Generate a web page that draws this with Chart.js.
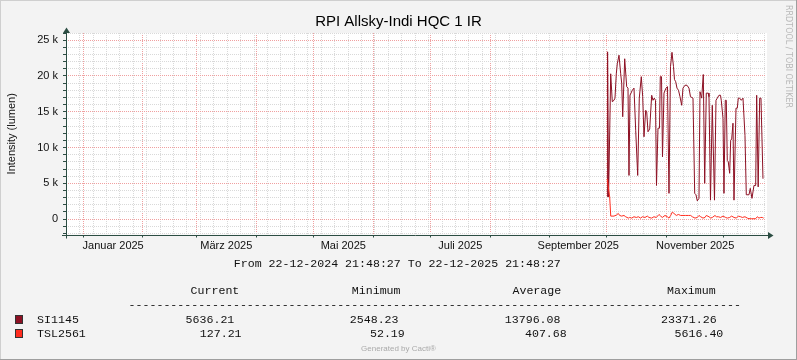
<!DOCTYPE html>
<html><head><meta charset="utf-8">
<script src="https://cdn.jsdelivr.net/npm/chart.js@4.4.1/dist/chart.umd.min.js"></script>
<style>
html,body{margin:0;padding:0;background:#f3f3f3;}
#wrap{position:relative;width:797px;height:360px;overflow:hidden;}
canvas{position:absolute;left:0;top:0;}
.m{position:absolute;font-family:"Liberation Mono",monospace;font-size:11.6px;line-height:1;white-space:pre;color:#111;}
.sq{position:absolute;width:8px;height:9px;box-sizing:border-box;border:1px solid #333;}
#gen{position:absolute;left:0;width:797px;text-align:center;top:345px;font-family:"Liberation Sans",sans-serif;font-size:8px;line-height:1;color:#aaa;}
#rrd{position:absolute;left:783px;top:5px;writing-mode:vertical-rl;font-family:"DejaVu Sans",sans-serif;font-size:8px;line-height:10px;color:#b8b8b8;white-space:nowrap;}
</style></head><body>
<div id="wrap">
<canvas id="c" width="797" height="360"></canvas>
<div id="legend"></div>
<div id="gen">Generated by Cacti®</div>
<div id="rrd">RRDTOOL / TOBI OETIKER</div>
</div>
<script>
// ---------------- data ----------------
const chartTitle = 'RPI Allsky-Indi HQC 1 IR';
const yAxisTitle = 'Intensity (lumen)';
const rangeStart = '2024-12-22T21:48:27Z';
const rangeEnd = '2025-12-22T21:48:27Z';
const monthStarts = ['2025-01-01','2025-02-01','2025-03-01','2025-04-01','2025-05-01','2025-06-01','2025-07-01','2025-08-01','2025-09-01','2025-10-01','2025-11-01','2025-12-01'];
const xLabelMonths = ['2025-01','2025-03','2025-05','2025-07','2025-09','2025-11'];
const xTickLabels = ['Januar 2025','März 2025','Mai 2025','Juli 2025','September 2025','November 2025'];
const yTickValues = [0,5000,10000,15000,20000,25000];
const yTickLabels = ['0','5 k','10 k','15 k','20 k','25 k'];
const yMin = -2150, yMax = 26000, yMinorStep = 1000;

const seriesNames = ['SI1145','TSL2561'];
const seriesStart = '2025-10-01T00:00:00Z'; // day offsets below are counted from here
const si1145Days = [0.10,0.31,0.83,1.93,2.76,3.65,4.17,4.85,5.37,6.26,7.14,7.66,8.19,9.23,10.27,10.95,11.47,11.99,13.19,14.08,14.96,16.01,16.84,17.88,18.61,19.29,20.18,20.70,21.38,22.26,23.31,23.98,24.66,25.29,25.81,26.59,27.37,27.79,28.42,28.94,29.72,30.76,31.54,32.33,33.11,33.89,34.67,35.19,35.82,36.50,37.28,38.06,38.95,39.62,40.67,41.71,42.75,43.54,44.84,45.73,46.40,47.08,47.97,48.49,49.37,50.21,50.94,51.77,52.82,53.18,53.96,54.90,56.05,56.83,57.51,58.39,59.18,59.59,60.48,61.00,61.68,62.20,62.72,63.24,63.97,64.49,65.02,65.69,66.22,67.26,67.94,68.46,69.19,70.02,70.91,71.95,72.63,74.04,74.71,75.60,76.64,77.53,78.05,78.83,79.62,80.29,81.33];
const si1145 = [3100,23370,3100,20300,16400,16600,16900,20300,21700,22900,20300,19000,14300,22400,18500,18300,6100,17300,18000,18300,12400,6100,16900,19900,17100,11500,15200,15000,12200,12600,17300,16600,16900,16600,4700,12700,12700,19900,19900,8700,17600,18300,18500,3600,21300,23300,21300,19500,19200,18300,18000,17100,15900,18300,18700,18700,18300,17100,16900,3600,3400,2550,2900,17800,16900,20200,5000,17600,17600,17100,2650,15900,2650,16600,16900,17300,17300,16600,14100,3600,16600,16600,8200,8000,6400,11000,11200,13400,2650,15500,15500,16900,16900,16600,16900,11700,3400,3400,4300,2900,4700,4700,17300,4500,16900,16900,5640];
const tsl2561Days = [0.10,1.40,1.95,3.65,4.87,5.91,6.60,7.65,8.86,9.73,11.12,11.82,12.86,14.08,15.29,16.33,17.55,18.42,19.81,21.03,21.90,23.29,24.50,25.72,27.11,27.98,28.85,30.24,31.46,32.33,33.20,34.06,34.93,36.15,37.19,38.41,39.62,41.02,42.41,43.62,44.49,45.88,47.10,47.97,48.84,50.05,51.10,51.79,53.18,54.05,54.92,56.31,57.00,58.05,59.26,60.48,61.87,62.74,63.96,65.00,66.22,67.43,68.47,69.69,70.56,71.95,73.17,74.04,75.43,76.64,77.51,78.38,79.25,80.12,80.99,81.70];
const tsl2561 = [5616,3100,420,420,560,790,510,420,510,330,140,230,140,330,230,330,140,330,230,420,230,140,330,230,650,420,230,510,330,140,510,980,790,510,650,510,510,510,510,510,330,140,230,510,330,140,230,510,330,140,230,510,330,330,230,420,230,140,230,420,230,140,420,330,230,330,140,60,55,52,60,330,140,230,230,127];

const legendPeriod = 'From 22-12-2024 21:48:27 To 22-12-2025 21:48:27';
const legendHeaders = ['Current','Minimum','Average','Maximum'];
const legendStats = [
  ['5636.21','2548.23','13796.08','23371.26'],
  ['127.21','52.19','407.68','5616.40']
];

// ---------------- styling ----------------
const DAY = 86400000;
const AXIS = '#2C4D43';
const MINOR = '#d9d9d9';
const MAJOR = '#f0a0a0';
const colors = ['#8D1124','#FF2D1F'];
const t0 = Date.parse(rangeStart), t1 = Date.parse(rangeEnd), s0 = Date.parse(seriesStart);

const siPts = si1145Days.map((d,i)=>({x:s0+d*DAY, y:si1145[i]}));
const tslPts = tsl2561Days.map((d,i)=>({x:s0+d*DAY, y:tsl2561[i]}));

const monthTicks = () => monthStarts.map(s=>({value:Date.parse(s+'T00:00:00Z')}));
const labelTicks = () => xLabelMonths.map(s=>{
  const [y,mo] = s.split('-').map(Number);
  return {value:(Date.UTC(y,mo-1,1)+Date.UTC(y,mo,1))/2};
});
const weekTicks = () => { const t=[]; for (let m=Date.UTC(2024,11,23); m<=t1; m+=7*DAY) if (m>=t0) t.push({value:m}); return t; };
const yMinorTicks = () => { const t=[]; for (let v=Math.ceil(yMin/yMinorStep)*yMinorStep; v<=yMax; v+=yMinorStep) if (v%5000!==0) t.push({value:v}); return t; };
const yMajorTicks = () => yTickValues.map(v=>({value:v}));

const framePlugin = {
  id:'frame',
  beforeDraw(chart){
    const {ctx, chartArea:a, width, height} = chart;
    ctx.save();
    ctx.fillStyle='#F3F3F3'; ctx.fillRect(0,0,width,height);
    ctx.fillStyle='#FFFFFF'; ctx.fillRect(a.left,a.top,a.right-a.left+1,a.bottom-a.top);
    ctx.fillStyle='#CFCFCF'; ctx.fillRect(0,0,width,1); ctx.fillRect(0,0,1,height);
    ctx.fillStyle='#9E9E9E'; ctx.fillRect(0,height-1,width,1); ctx.fillRect(width-1,0,1,height);
    ctx.restore();
  },
  afterDatasetsDraw(chart){
    const {ctx, chartArea:a} = chart;
    ctx.save();
    ctx.strokeStyle=AXIS; ctx.fillStyle=AXIS; ctx.lineWidth=1;
    const x0 = Math.round(a.left)+0.5, y0 = Math.round(a.bottom)+0.5;
    ctx.beginPath(); ctx.moveTo(x0, a.bottom+4); ctx.lineTo(x0, a.top-1); ctx.stroke();
    ctx.beginPath(); ctx.moveTo(a.left-4, y0); ctx.lineTo(a.right+3, y0); ctx.stroke();
    ctx.beginPath(); ctx.moveTo(x0-3.5, a.top); ctx.lineTo(x0+3.5, a.top); ctx.lineTo(x0, a.top-5.5); ctx.closePath(); ctx.fill();
    const xr = a.right+2;
    ctx.beginPath(); ctx.moveTo(xr, y0-3.5); ctx.lineTo(xr, y0+3.5); ctx.lineTo(xr+5.5, y0); ctx.closePath(); ctx.fill();
    ctx.restore();
  }
};

const hiddenTicks = {display:false};
const noBorderDotted = {display:false, dash:[1,1]};

Chart.defaults.font.family = '"Liberation Sans", Arial, sans-serif';
new Chart(document.getElementById('c'), {
  type:'line',
  data:{datasets:[
    {label:seriesNames[1], data:tslPts, xAxisID:'x', yAxisID:'y', borderColor:colors[1], borderWidth:1, pointRadius:0, tension:0, fill:false, order:0},
    {label:seriesNames[0], data:siPts, xAxisID:'x', yAxisID:'y', borderColor:colors[0], borderWidth:1, pointRadius:0, tension:0, fill:false, order:1}
  ]},
  options:{
    responsive:false, animation:false, devicePixelRatio:1,
    layout:{padding:{left:0, right:0, top:0, bottom:105.5}},
    plugins:{
      legend:{display:false}, tooltip:{enabled:false},
      title:{display:true, text:chartTitle, color:'#000', font:{size:15, weight:'normal'}, padding:{top:13, bottom:2}}
    },
    scales:{
      x:{ axis:'x', type:'linear', position:'bottom', min:t0, max:t1, z:-1,
        afterBuildTicks: s => { s.ticks = monthTicks(); },
        afterFit: s => { s.height = 3; },
        grid:{color:MAJOR, lineWidth:1, drawTicks:true, tickLength:3, tickColor:AXIS},
        border:noBorderDotted, ticks:hiddenTicks },
      xLab:{ axis:'x', type:'linear', position:'bottom', min:t0, max:t1,
        afterBuildTicks: s => { s.ticks = labelTicks(); },
        afterFit: s => { s.height = 17; },
        grid:{drawOnChartArea:false, drawTicks:false, tickLength:0}, border:{display:false},
        ticks:{autoSkip:false, maxRotation:0, minRotation:0, padding:2, color:'#111', font:{size:11},
               callback:(v,i)=> xTickLabels[i]} },
      xMin:{ axis:'x', type:'linear', position:'bottom', min:t0, max:t1, z:-2,
        afterBuildTicks: s => { s.ticks = weekTicks(); },
        afterFit: s => { s.height = 0; },
        grid:{color:MINOR, lineWidth:1, drawTicks:false},
        border:noBorderDotted, ticks:hiddenTicks },
      yMin:{ axis:'y', type:'linear', position:'left', min:yMin, max:yMax, z:-2,
        afterBuildTicks: s => { s.ticks = yMinorTicks(); },
        afterFit: s => { s.width = 0; },
        grid:{color:MINOR, lineWidth:1, drawTicks:true, tickLength:3, tickColor:AXIS},
        border:noBorderDotted, ticks:hiddenTicks },
      y:{ axis:'y', type:'linear', position:'left', min:yMin, max:yMax, z:-1,
        afterBuildTicks: s => { s.ticks = yMajorTicks(); },
        afterFit: s => { s.width = 66; },
        grid:{color:MAJOR, lineWidth:1, drawTicks:true, tickLength:3, tickColor:AXIS},
        border:noBorderDotted,
        ticks:{autoSkip:false, padding:5, color:'#111', font:{size:11},
               callback:(v,i)=> yTickLabels[i]},
        title:{display:true, text:yAxisTitle, color:'#111', font:{size:11}, padding:{top:5.4, bottom:0}} },
      yR:{ axis:'y', type:'linear', position:'right', min:yMin, max:yMax,
        afterFit: s => { s.width = 31; },
        grid:{display:false, drawOnChartArea:false, drawTicks:false}, border:{display:false}, ticks:hiddenTicks }
    }
  },
  plugins:[framePlugin]
});

// ---------------- text legend ----------------
const L = document.getElementById('legend');
function put(text, left, top){ const d=document.createElement('div'); d.className='m'; d.textContent=text; d.style.left=left+'px'; d.style.top=top+'px'; L.appendChild(d); return d; }
put(legendPeriod, 233.8, 258.4);
const hdrX = [190.6, 351.8, 512.5, 667];
legendHeaders.forEach((h,i)=>put(h, hdrX[i], 285.4));
put('-'.repeat(88), 128.6, 298.6);
const rowTop = [314.2, 327.6];
const statX = [[185.6,349.8,504.8,661],[199.8,370,525,674.6]];
seriesNames.forEach((n,r)=>{
  const sq=document.createElement('div'); sq.className='sq'; sq.style.left='15px'; sq.style.top=(rowTop[r]+1)+'px'; sq.style.background=colors[r]; L.appendChild(sq);
  put(n, 37.1, rowTop[r]);
  legendStats[r].forEach((v,i)=>put(v, statX[r][i], rowTop[r]));
});
</script>
</body></html>
